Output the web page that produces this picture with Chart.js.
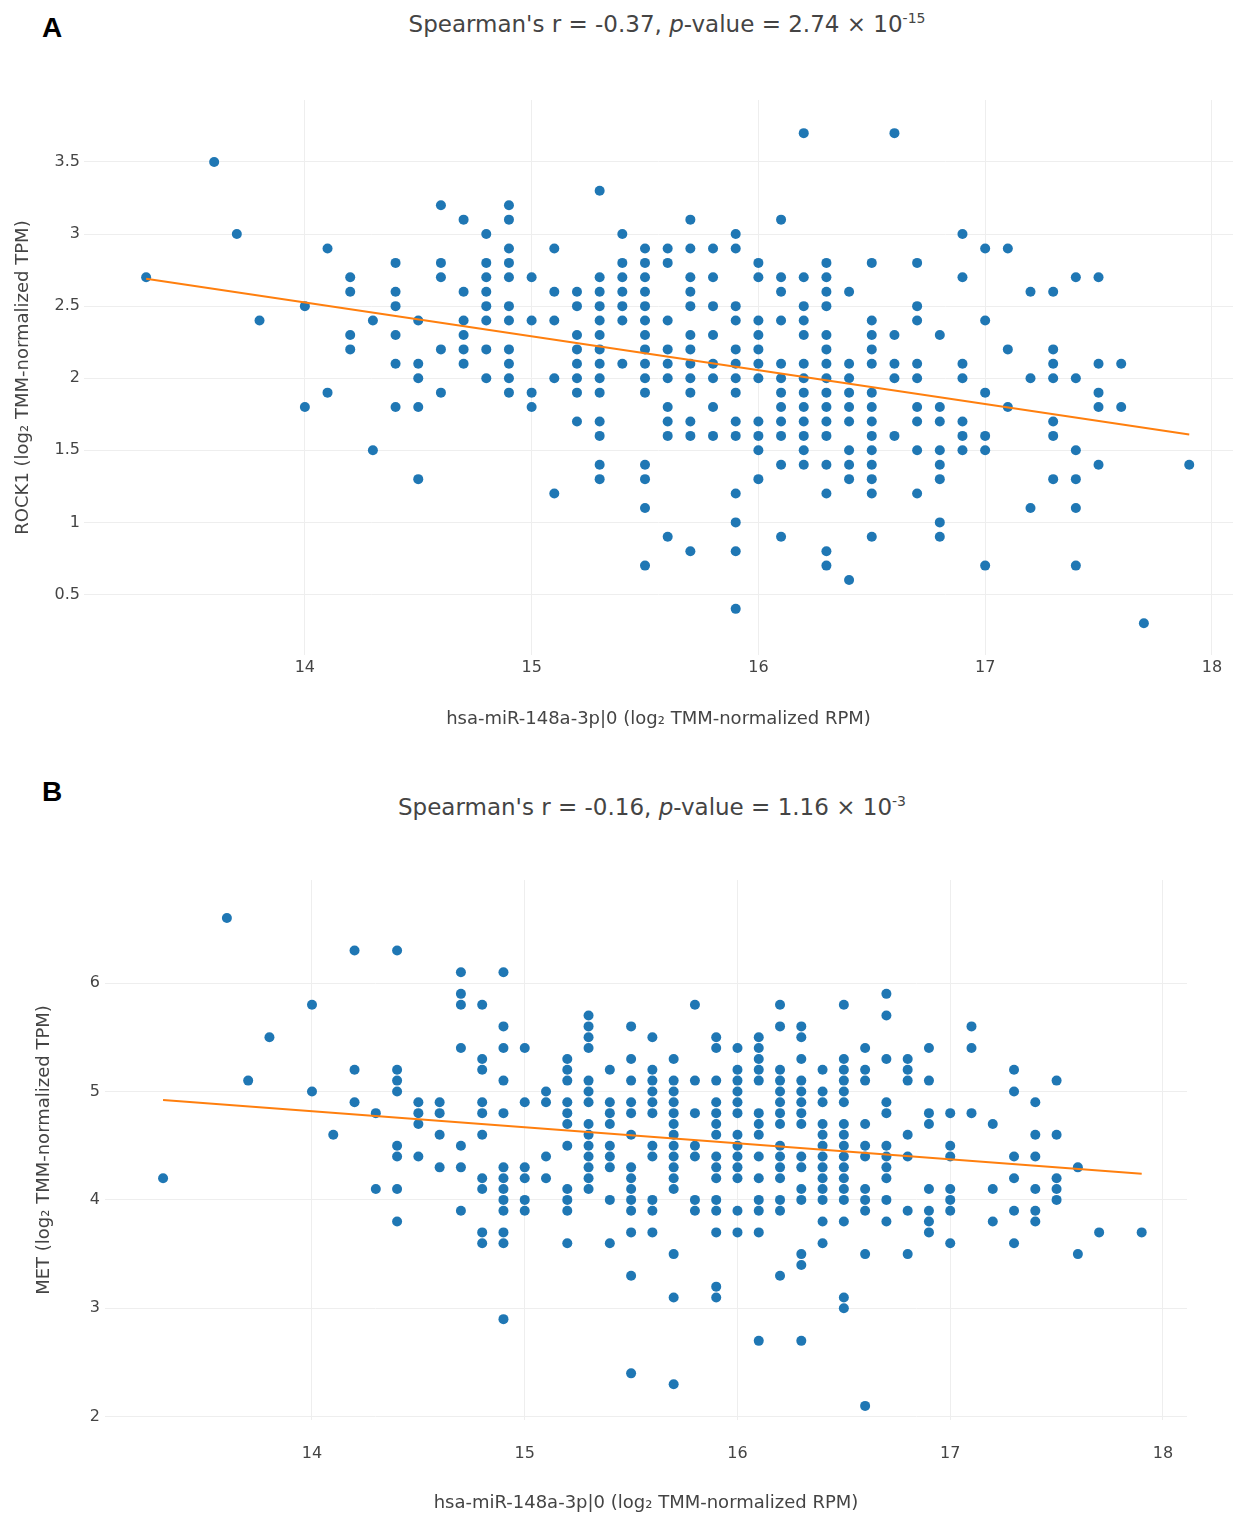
<!DOCTYPE html>
<html>
<head>
<meta charset="utf-8">
<script src="https://cdn.jsdelivr.net/npm/chart.js@4"></script>
<style>
  body { margin: 0; background: #fff; width: 1238px; height: 1516px; position: relative; overflow: hidden; font-family: "DejaVu Sans", Verdana, sans-serif; }
  .letter { position: absolute; left: 42px; font: bold 28px/1 "Liberation Sans", Arial, sans-serif; color: #000; }
  .head { position: absolute; transform: translateX(-50%); white-space: nowrap; font-size: 23px; line-height: 1.2; color: #444; }
  .head sup { font-size: 14px; }
  canvas { position: absolute; left: 0; }
</style>
</head>
<body>
<div class="letter" style="top:14px">A</div>
<div class="head" style="left:667px; top:10px">Spearman's r = -0.37, <i>p</i>-value = 2.74 × 10<sup>-15</sup></div>
<canvas id="chartA" width="1238" height="760" style="top:0"></canvas>
<div class="letter" style="top:778px">B</div>
<div class="head" style="left:652px; top:793px">Spearman's r = -0.16, <i>p</i>-value = 1.16 × 10<sup>-3</sup></div>
<canvas id="chartB" width="1238" height="756" style="top:760px"></canvas>
<script>
const xTicks = [14, 15, 16, 17, 18]
const yTicksA = [0.5, 1, 1.5, 2, 2.5, 3, 3.5]
const yTicksB = [2, 3, 4, 5, 6]

const xLabel = 'hsa-miR-148a-3p|0 (log₂ TMM-normalized RPM)'

// panel A: ROCK1, one entry per miRNA column
const colsA = [13.3, 13.6, 13.7, 13.8, 14.0, 14.1, 14.2, 14.3, 14.4, 14.5, 14.6, 14.7, 14.8, 14.9,
  15.0, 15.1, 15.2, 15.3, 15.4, 15.5, 15.6, 15.7, 15.8, 15.9, 16.0, 16.1, 16.2, 16.3, 16.4, 16.5,
  16.6, 16.7, 16.8, 16.9, 17.0, 17.1, 17.2, 17.3, 17.4, 17.5, 17.6, 17.7, 17.9]
const rock1 = [
  [2.7], [3.5], [3.0], [2.4], [2.5, 1.8], [2.9, 1.9], [2.7, 2.6, 2.3, 2.2], [2.4, 1.5],
  [2.8, 2.6, 2.5, 2.3, 2.1, 1.8], [2.4, 2.1, 2.0, 1.8, 1.3], [3.2, 2.8, 2.7, 2.2, 1.9],
  [3.1, 2.6, 2.4, 2.3, 2.2, 2.1], [3.0, 2.8, 2.7, 2.6, 2.5, 2.4, 2.2, 2.0],
  [3.2, 3.1, 2.9, 2.8, 2.7, 2.5, 2.4, 2.2, 2.1, 2.0, 1.9], [2.7, 2.4, 1.9, 1.8],
  [2.9, 2.6, 2.4, 2.0, 1.2], [2.6, 2.5, 2.3, 2.2, 2.1, 2.0, 1.9, 1.7],
  [3.3, 2.7, 2.6, 2.5, 2.4, 2.3, 2.2, 2.1, 2.0, 1.9, 1.7, 1.6, 1.4, 1.3],
  [3.0, 2.8, 2.7, 2.6, 2.5, 2.4, 2.1],
  [2.9, 2.8, 2.7, 2.6, 2.5, 2.4, 2.3, 2.2, 2.1, 2.0, 1.9, 1.4, 1.3, 1.1, 0.7],
  [2.9, 2.8, 2.4, 2.2, 2.1, 2.0, 1.8, 1.7, 1.6, 0.9],
  [3.1, 2.9, 2.7, 2.6, 2.5, 2.3, 2.2, 2.1, 2.0, 1.9, 1.7, 1.6, 0.8],
  [2.9, 2.7, 2.5, 2.3, 2.1, 2.0, 1.8, 1.6],
  [3.0, 2.9, 2.5, 2.4, 2.2, 2.1, 2.0, 1.9, 1.7, 1.6, 1.2, 1.0, 0.8, 0.4],
  [2.8, 2.7, 2.4, 2.3, 2.2, 2.1, 2.0, 1.7, 1.6, 1.5, 1.3],
  [3.1, 2.7, 2.6, 2.4, 2.1, 2.0, 1.9, 1.8, 1.7, 1.6, 1.4, 0.9],
  [3.7, 2.7, 2.5, 2.4, 2.3, 2.1, 2.0, 1.9, 1.8, 1.7, 1.6, 1.5, 1.4],
  [2.8, 2.7, 2.6, 2.5, 2.3, 2.2, 2.1, 2.0, 1.9, 1.8, 1.7, 1.6, 1.4, 1.2, 0.8, 0.7],
  [2.6, 2.1, 2.0, 1.9, 1.8, 1.7, 1.5, 1.4, 1.3, 0.6],
  [2.8, 2.4, 2.3, 2.2, 2.1, 1.9, 1.8, 1.7, 1.6, 1.5, 1.4, 1.3, 1.2, 0.9],
  [3.7, 2.3, 2.1, 2.0, 1.6], [2.8, 2.5, 2.4, 2.1, 2.0, 1.8, 1.7, 1.5, 1.2],
  [2.3, 1.8, 1.7, 1.5, 1.4, 1.3, 1.0, 0.9], [3.0, 2.7, 2.1, 2.0, 1.7, 1.6, 1.5],
  [2.9, 2.4, 1.9, 1.6, 1.5, 0.7], [2.9, 2.2, 1.8], [2.6, 2.0, 1.1],
  [2.6, 2.2, 2.1, 2.0, 1.7, 1.6, 1.3], [2.7, 2.0, 1.5, 1.3, 1.1, 0.7],
  [2.7, 2.1, 1.9, 1.8, 1.4], [2.1, 1.8], [0.3], [1.4]
]
const fitXA = [13.3, 17.9]
const fitYA = [2.69, 1.61]

// panel B: MET
const colsB = colsA
const met = [
  [4.2], [6.6], [5.1], [5.5], [5.8, 5.0], [4.6], [6.3, 5.2, 4.9], [4.8, 4.1],
  [6.3, 5.2, 5.1, 5.0, 4.5, 4.4, 4.1, 3.8], [4.9, 4.8, 4.7, 4.4], [4.9, 4.8, 4.6, 4.3],
  [6.1, 5.9, 5.8, 5.4, 4.5, 4.3, 3.9], [5.8, 5.3, 5.2, 4.9, 4.8, 4.6, 4.2, 4.1, 3.7, 3.6],
  [6.1, 5.6, 5.4, 5.1, 4.8, 4.3, 4.2, 4.1, 4.0, 3.9, 3.7, 3.6, 2.9],
  [5.4, 4.9, 4.3, 4.2, 4.0, 3.9], [5.0, 4.9, 4.4, 4.2],
  [5.3, 5.2, 5.1, 4.9, 4.8, 4.7, 4.5, 4.1, 4.0, 3.9, 3.6],
  [5.7, 5.6, 5.5, 5.4, 5.1, 5.0, 4.9, 4.7, 4.6, 4.5, 4.4, 4.3, 4.2, 4.1],
  [5.2, 4.9, 4.8, 4.7, 4.5, 4.4, 4.3, 4.0, 3.6],
  [5.6, 5.3, 5.1, 4.9, 4.8, 4.6, 4.3, 4.2, 4.1, 4.0, 3.9, 3.7, 3.3, 2.4],
  [5.5, 5.2, 5.1, 5.0, 4.9, 4.8, 4.5, 4.4, 4.0, 3.9, 3.7],
  [5.3, 5.1, 5.0, 4.9, 4.8, 4.7, 4.6, 4.5, 4.4, 4.3, 4.2, 4.1, 3.5, 3.1, 2.3],
  [5.8, 5.1, 4.8, 4.5, 4.4, 4.0, 3.9],
  [5.5, 5.4, 5.1, 4.9, 4.8, 4.7, 4.6, 4.4, 4.3, 4.2, 4.0, 3.9, 3.7, 3.2, 3.1],
  [5.4, 5.2, 5.1, 5.0, 4.9, 4.8, 4.6, 4.5, 4.4, 4.3, 4.2, 3.9, 3.7],
  [5.5, 5.4, 5.3, 5.2, 5.1, 4.8, 4.7, 4.6, 4.4, 4.2, 4.0, 3.9, 3.7, 2.7],
  [5.8, 5.6, 5.2, 5.1, 5.0, 4.9, 4.8, 4.7, 4.5, 4.4, 4.3, 4.2, 4.0, 3.9, 3.3],
  [5.6, 5.5, 5.3, 5.1, 5.0, 4.9, 4.8, 4.7, 4.4, 4.3, 4.1, 4.0, 3.5, 3.4, 2.7],
  [5.2, 5.0, 4.9, 4.7, 4.6, 4.5, 4.4, 4.3, 4.2, 4.1, 4.0, 3.8, 3.6],
  [5.8, 5.3, 5.2, 5.1, 5.0, 4.9, 4.7, 4.6, 4.5, 4.4, 4.3, 4.2, 4.1, 4.0, 3.8, 3.1, 3.0],
  [5.4, 5.2, 5.1, 4.7, 4.5, 4.4, 4.1, 4.0, 3.9, 3.5, 2.1],
  [5.9, 5.7, 5.3, 4.9, 4.8, 4.5, 4.4, 4.3, 4.2, 4.0, 3.8],
  [5.3, 5.2, 5.1, 4.6, 4.4, 3.9, 3.5], [5.4, 5.1, 4.8, 4.7, 4.1, 3.9, 3.8, 3.7],
  [4.8, 4.5, 4.4, 4.1, 4.0, 3.9, 3.6], [5.6, 5.4, 4.8], [4.7, 4.1, 3.8],
  [5.2, 5.0, 4.4, 4.2, 3.9, 3.6], [4.9, 4.6, 4.4, 4.1, 3.9, 3.8],
  [5.1, 4.6, 4.2, 4.1, 4.0], [4.3, 3.5], [3.7], [3.7]
]
const fitXB = [13.3, 17.9]
const fitYB = [4.92, 4.24]

Chart.defaults.font.family = '"DejaVu Sans", Verdana, sans-serif'
Chart.defaults.color = '#444'

function toPoints(cols, vals) {
  const pts = []
  cols.forEach((x, i) => {
    vals[i].forEach((y) => pts.push({ x, y }))
  })
  return pts
}

function makeChart(id, o) {
  return new Chart(document.getElementById(id), {
    type: 'scatter',
    data: {
      datasets: [
        {
          type: 'line',
          data: o.fitX.map((x, i) => ({ x, y: o.fitY[i] })),
          borderColor: '#ff7f0e',
          borderWidth: 2,
          pointRadius: 0,
          fill: false,
          order: 0
        },
        {
          data: toPoints(o.cols, o.vals),
          backgroundColor: '#1f77b4',
          borderWidth: 0,
          pointRadius: 5,
          order: 1
        }
      ]
    },
    options: {
      responsive: false,
      animation: false,
      plugins: { legend: { display: false }, tooltip: { enabled: false } },
      layout: { padding: { top: o.top, right: o.right, left: 0, bottom: 0 } },
      scales: {
        x: {
          type: 'linear',
          min: o.xMin,
          max: o.xMax,
          afterFit: (s) => { s.height = o.xh },
          afterBuildTicks: (s) => { s.ticks = xTicks.map((v) => ({ value: v })) },
          grid: { color: '#eeeeee', drawTicks: false },
          border: { display: false },
          ticks: { padding: o.xPad, font: { size: 16 }, callback: (v) => String(v) },
          title: { display: true, text: xLabel, font: { size: 18 }, padding: { top: 0, bottom: o.xTitlePad } }
        },
        y: {
          type: 'linear',
          min: o.yMin,
          max: o.yMax,
          afterFit: (s) => { s.width = o.yw },
          afterBuildTicks: (s) => { s.ticks = o.yTicks.map((v) => ({ value: v })) },
          grid: { color: '#eeeeee', drawTicks: false },
          border: { display: false },
          ticks: { padding: o.yPad, font: { size: 16 }, callback: (v) => String(v) },
          title: { display: true, text: o.yLabel, font: { size: 18 }, padding: { top: o.yTitlePad, bottom: 0 } }
        }
      }
    }
  })
}

makeChart('chartA', {
  cols: colsA, vals: rock1, fitX: fitXA, fitY: fitYA, yTicks: yTicksA,
  yLabel: 'ROCK1 (log₂ TMM-normalized TPM)',
  xMin: 13.026, xMax: 18.093, yMin: 0.08, yMax: 3.93,
  top: 100, right: 0, xh: 105, yw: 84, xPad: 3, yPad: 4, xTitlePad: 30, yTitlePad: 13
})

makeChart('chartB', {
  cols: colsB, vals: met, fitX: fitXB, fitY: fitYB, yTicks: yTicksB,
  yLabel: 'MET (log₂ TMM-normalized TPM)',
  xMin: 13.027, xMax: 18.113, yMin: 1.97, yMax: 6.95,
  top: 120, right: 51, xh: 96, yw: 105, xPad: 24, yPad: 5, xTitlePad: 2, yTitlePad: 34
})
</script>
</body>
</html>
